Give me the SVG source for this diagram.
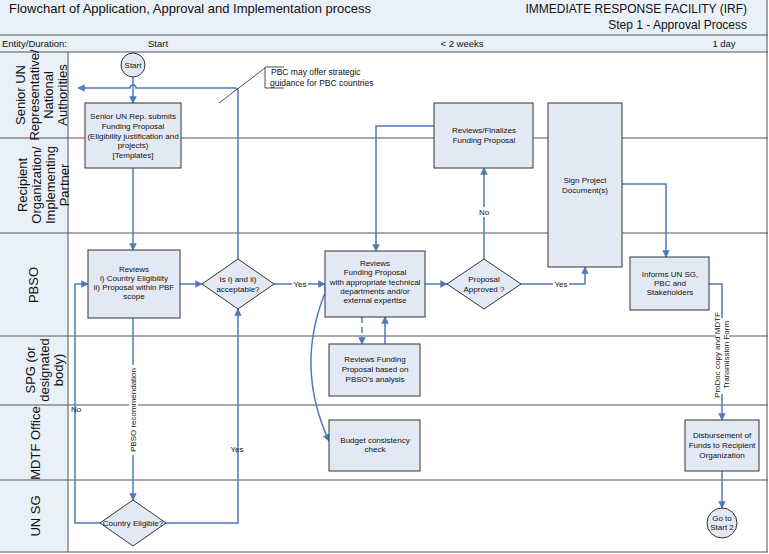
<svg xmlns="http://www.w3.org/2000/svg" width="769" height="554" viewBox="0 0 769 554">
<defs>
<style>
text{font-family:"Liberation Sans",Arial,sans-serif;fill:#111}
.box{fill:#e3e9f4;stroke:#333;stroke-width:1}
.c{fill:none;stroke:#4f78bd;stroke-width:1.5}
.lane{font-size:13px;text-anchor:middle}
.t{font-size:8px;text-anchor:middle}
.lbl{font-size:8px;text-anchor:middle}
.grid{stroke:#555;stroke-width:1}
</style>
<marker id="a" viewBox="0 0 10 10" refX="9" refY="5" markerWidth="5" markerHeight="5" orient="auto"><path d="M0,0L10,5L0,10z" fill="#4f78bd"/></marker>
</defs>
<rect x="0" y="0" width="769" height="554" fill="#fff"/>
<rect x="0" y="0" width="768" height="52" fill="#eaf0f8"/>
<rect x="0" y="52" width="68" height="500" fill="#eaf0f8"/>
<g id="frame">
<line class="grid" x1="0" y1="35" x2="768" y2="35"/>
<line class="grid" x1="0" y1="52" x2="768" y2="52"/>
<line class="grid" x1="0" y1="138" x2="768" y2="138"/>
<line class="grid" x1="0" y1="233" x2="768" y2="233"/>
<line class="grid" x1="0" y1="336" x2="768" y2="336"/>
<line class="grid" x1="0" y1="405" x2="768" y2="405"/>
<line class="grid" x1="0" y1="480" x2="768" y2="480"/>
<line class="grid" x1="0" y1="552" x2="768" y2="552"/>
<line class="grid" x1="68" y1="52" x2="68" y2="552"/>
<line class="grid" x1="767" y1="0" x2="767" y2="552"/>
</g>
<g id="header">
<text x="9" y="13" font-size="13">Flowchart of Application, Approval and Implementation process</text>
<text x="747" y="13" font-size="12" text-anchor="end">IMMEDIATE RESPONSE FACILITY (IRF)</text>
<text x="747" y="29" font-size="12" text-anchor="end">Step 1 - Approval Process</text>
<text x="2" y="47" font-size="9.5">Entity/Duration:</text>
<text x="158" y="47" font-size="9.5" text-anchor="middle">Start</text>
<text x="462" y="47" font-size="9.5" text-anchor="middle">&lt; 2 weeks</text>
<text x="724" y="47" font-size="9.5" text-anchor="middle">1 day</text>
</g>
<g id="lanes">
<text class="lane" transform="translate(35,95) rotate(-90)"><tspan x="0" y="-10">Senior UN</tspan><tspan x="0" y="4">Representative/</tspan><tspan x="0" y="18">National</tspan><tspan x="0" y="32" dy="-0">Authorities</tspan></text>
<text class="lane" transform="translate(35,185) rotate(-90)"><tspan x="0" y="-8">Recipient</tspan><tspan x="0" y="6">Organization/</tspan><tspan x="0" y="20">Implementing</tspan><tspan x="0" y="34">Partner</tspan></text>
<text class="lane" transform="translate(38,285) rotate(-90)" font-size="15">PBSO</text>
<text class="lane" transform="translate(35,370) rotate(-90)"><tspan x="0" y="0">SPG (or</tspan><tspan x="0" y="14">designated</tspan><tspan x="0" y="28">body)</tspan></text>
<text class="lane" transform="translate(40,443) rotate(-90)" font-size="15">MDTF Office</text>
<text class="lane" transform="translate(40,516) rotate(-90)" font-size="15">UN SG</text>
</g>
<g id="connectors">
<line class="c" x1="133" y1="77" x2="133" y2="103" marker-end="url(#a)"/>
<path class="c" d="M238,259 V92 A3,3 0 0 0 235,88 H136 A3,3 0 0 0 130,88 H78" marker-end="url(#a)"/>
<line x1="219" y1="103" x2="265" y2="68" stroke="#222" stroke-width="0.8"/>
<line class="c" x1="133" y1="168" x2="133" y2="250" marker-end="url(#a)"/>
<line class="c" x1="180" y1="284" x2="202" y2="284" marker-end="url(#a)"/>
<line class="c" x1="274" y1="284" x2="325" y2="284" marker-end="url(#a)"/>
<line class="c" x1="133" y1="318" x2="133" y2="500" marker-end="url(#a)"/>
<path class="c" d="M100,523 H75 V284 H88" marker-end="url(#a)"/>
<path class="c" d="M166,523 H238 V309" marker-end="url(#a)"/>
<path class="c" d="M434,126 H376 V251" marker-end="url(#a)"/>
<line class="c" x1="362" y1="317" x2="362" y2="344" stroke-dasharray="6,4" marker-end="url(#a)"/>
<line class="c" x1="385" y1="344" x2="385" y2="317" marker-end="url(#a)"/>
<path class="c" d="M325,293 Q295,367 329,441" marker-start="url(#a)" marker-end="url(#a)"/>
<line class="c" x1="425" y1="284" x2="447" y2="284" marker-end="url(#a)"/>
<line class="c" x1="484" y1="259" x2="484" y2="168" marker-end="url(#a)"/>
<path class="c" d="M521,284 H585 V267" marker-end="url(#a)"/>
<path class="c" d="M622,184 H666 V257" marker-end="url(#a)"/>
<path class="c" d="M709,284 H722 V420" marker-end="url(#a)"/>
<line class="c" x1="722" y1="471" x2="722" y2="508" marker-end="url(#a)"/>
<rect x="292" y="279" width="16" height="10" fill="#fff"/><text class="lbl" x="300" y="287">Yes</text>
<rect x="553" y="279" width="16" height="10" fill="#fff"/><text class="lbl" x="561" y="287">Yes</text>
<rect x="478" y="207" width="12" height="10" fill="#fff"/><text class="lbl" x="484" y="215">No</text>
<text class="lbl" x="76" y="412">No</text>
<text class="lbl" x="237" y="452">Yes</text>
<rect x="129" y="365" width="9" height="90" fill="#fff"/>
<text class="lbl" transform="translate(136,410) rotate(-90)">PBSO recommendation</text>
<rect x="716" y="318" width="13" height="76" fill="#fff"/>
<text class="lbl" transform="translate(722,355) rotate(-90)"><tspan x="0" y="-2">ProDoc copy and MDTF</tspan><tspan x="0" y="7">Transmission Form</tspan></text>
</g>
<g id="start"><circle cx="133" cy="65" r="12" fill="#e3e9f4" stroke="#333"/><text class="t" x="133" y="68" font-size="7">Start</text></g>
<g id="note"><path d="M284,67 H265 V88 H284" fill="none" stroke="#222" stroke-width="0.8"/><text x="271" y="75" font-size="8.5">PBC may offer strategic</text><text x="270" y="86" font-size="8.5">guidance for PBC countries</text></g>
<g id="submit"><rect class="box" x="85" y="103" width="96" height="65"/><text class="t"><tspan x="133" y="119">Senior UN Rep. submits</tspan><tspan x="133" y="129">Funding Proposal</tspan><tspan x="133" y="139">(Eligibility justification and</tspan><tspan x="133" y="148">projects)</tspan><tspan x="133" y="158">[Templates]</tspan></text></g>
<g id="reviews"><rect class="box" x="88" y="250" width="92" height="68"/><text class="t"><tspan x="134" y="272">Reviews</tspan><tspan x="134" y="281">i) Country Eligibility</tspan><tspan x="134" y="290">ii) Proposal within PBF</tspan><tspan x="134" y="299">scope</tspan></text></g>
<g id="dec1"><path class="box" d="M238,259 L274,284 L238,309 L202,284z"/><text class="t"><tspan x="238" y="282">Is i) and ii)</tspan><tspan x="238" y="292">acceptable?</tspan></text></g>
<g id="dec2"><path class="box" d="M133,500 L166,523 L133,546 L100,523z"/><text class="t" x="133" y="526" font-size="6">Country Eligible?</text></g>
<g id="reviewsFP"><rect class="box" x="325" y="251" width="100" height="66"/><text class="t"><tspan x="375" y="266">Reviews</tspan><tspan x="375" y="275">Funding Proposal</tspan><tspan x="375" y="285">with appropriate technical</tspan><tspan x="375" y="294">departments and/or</tspan><tspan x="375" y="303">external expertise</tspan></text></g>
<g id="spg"><rect class="box" x="329" y="344" width="91" height="52"/><text class="t"><tspan x="375" y="362">Reviews Funding</tspan><tspan x="375" y="372">Proposal based on</tspan><tspan x="375" y="382">PBSO's analysis</tspan></text></g>
<g id="budget"><rect class="box" x="329" y="420" width="91" height="51"/><text class="t"><tspan x="375" y="443">Budget consistency</tspan><tspan x="375" y="452">check</tspan></text></g>
<g id="finalize"><rect class="box" x="434" y="103" width="99" height="65"/><text class="t"><tspan x="484" y="133">Reviews/Finalizes</tspan><tspan x="484" y="143">Funding Proposal</tspan></text></g>
<g id="dec3"><path class="box" d="M484,259 L521,284 L484,309 L447,284z"/><text class="t"><tspan x="484" y="282">Proposal</tspan><tspan x="484" y="292">Approved ?</tspan></text></g>
<g id="sign"><rect class="box" x="548" y="103" width="74" height="164"/><text class="t"><tspan x="585" y="183">Sign Project</tspan><tspan x="585" y="193">Document(s)</tspan></text></g>
<g id="informs"><rect class="box" x="630" y="257" width="79" height="53"/><text class="t"><tspan x="670" y="277">Informs UN SG,</tspan><tspan x="670" y="286">PBC and</tspan><tspan x="670" y="295">Stakeholders</tspan></text></g>
<g id="disburse"><rect class="box" x="685" y="420" width="74" height="51"/><text class="t"><tspan x="722" y="438">Disbursement of</tspan><tspan x="722" y="448">Funds to Recipient</tspan><tspan x="722" y="458">Organization</tspan></text></g>
<g id="goto"><circle cx="722" cy="523" r="15" fill="#e3e9f4" stroke="#333"/><text class="t"><tspan x="722" y="521">Go to</tspan><tspan x="722" y="530">Start 2</tspan></text></g>
</svg>
